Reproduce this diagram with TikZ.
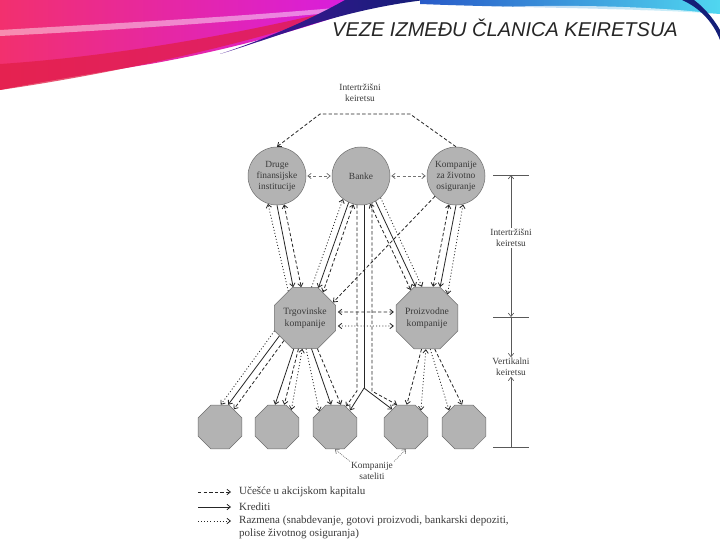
\documentclass[tikz,border=0pt]{standalone}
\usepackage{fontspec}
\setmainfont{Liberation Serif}
\newfontfamily\titlefont{Liberation Sans}
\usetikzlibrary{shapes.geometric,arrows.meta,calc}
\definecolor{nodefill}{HTML}{B3B3B3}
\definecolor{nodeline}{HTML}{6E6E6E}
\definecolor{linec}{HTML}{262626}
\definecolor{txt}{HTML}{3A3A3A}
\definecolor{pinkA}{RGB}{242,48,110}
\definecolor{pinkB}{RGB}{214,28,232}
\definecolor{crim}{RGB}{225,30,70}
\definecolor{navyA}{RGB}{70,20,150}
\definecolor{navyB}{RGB}{20,30,120}
\definecolor{blueA}{RGB}{40,90,200}
\definecolor{cyanA}{RGB}{80,215,240}
\begin{document}
\begin{tikzpicture}[x=1pt,y=-1pt,
  >={Straight Barb[length=3.4pt,width=5.4pt]},
  ln/.style={draw=linec, line width=0.8pt},
  sol/.style={ln},
  dsh/.style={ln, dash pattern=on 3.4pt off 2.2pt},
  dtt/.style={ln, dash pattern=on 1pt off 2.1pt},
  dshg/.style={draw=black!55, line width=0.75pt, dash pattern=on 3pt off 2.2pt},
  brk/.style={draw=black!65, line width=0.65pt},
  sat/.style={draw=black!60, line width=0.55pt, dash pattern=on 1pt off 1pt},
  circ/.style={circle, fill=nodefill, draw=nodeline, line width=0.5pt, minimum size=58pt, inner sep=0pt, align=center, text=txt, font=\fontsize{9.4}{11}\selectfont},
  octbig/.style={regular polygon, regular polygon sides=8, fill=nodefill, draw=nodeline, line width=0.5pt, minimum size=57.4pt, inner sep=0pt, align=center, text=txt, font=\fontsize{9.6}{12.5}\selectfont},
  octsm/.style={regular polygon, regular polygon sides=8, fill=nodefill, draw=nodeline, line width=0.5pt, minimum size=47.6pt, inner sep=0pt},
  lbl/.style={align=center, text=txt, font=\fontsize{9.4}{10.5}\selectfont, inner sep=1pt},
  leg/.style={anchor=west, text=txt, font=\fontsize{11}{12}\selectfont, inner sep=0pt},
]
\fill[white] (0,0) rectangle (720,540);
\useasboundingbox (0,0) rectangle (720,540);

% ---- decorative header swoosh ----
\shade[left color=pinkA, right color=pinkB]
  (0,0) -- (380,0) .. controls (330,22) and (240,48) .. (150,64)
  .. controls (90,74) and (40,82) .. (0,90) -- cycle;
\fill[crim, opacity=0.75] (0,64) .. controls (90,58) and (200,42) .. (320,14)
  -- (335,14) .. controls (240,46) and (110,74) .. (0,90) -- cycle;
\fill[white, opacity=0.45] (0,30) .. controls (100,24) and (220,18) .. (335,8)
  -- (330,13) .. controls (220,23) and (100,31) .. (0,36) -- cycle;
\shade[left color=navyA, right color=navyB]
  (220,54) .. controls (280,34) and (320,14) .. (345,0) -- (425,0)
  .. controls (340,10) and (280,36) .. (220,54) -- cycle;
\shade[left color=blueA, right color=cyanA]
  (420,0) -- (720,0) -- (720,14) .. controls (640,8) and (520,8) .. (420,4) -- cycle;
\fill[white, opacity=0.7] (470,8) .. controls (560,4) and (640,6) .. (700,12)
  -- (700,14) .. controls (640,9) and (560,8) .. (470,10) -- cycle;
\fill[navyB] (682,0) .. controls (700,8) and (713,22) .. (720,40)
  -- (720,30) .. controls (712,16) and (702,6) .. (694,0) -- cycle;

\node[font=\titlefont\itshape\fontsize{20}{23}\selectfont, text=black!85, anchor=base, inner sep=0pt]
  (title) at (505,37) {VEZE IZMEĐU ČLANICA KEIRETSUA};

% ---- nodes ----
\node[circ] (dr) at (277,176) {Druge\\finansijske\\institucije};
\node[circ] (bk) at (361,176) {Banke};
\node[circ] (ko) at (456,176) {Kompanije\\za životno\\osiguranje};
\node[octbig] (trg) at (305,318) {Trgovinske\\kompanije};
\node[octbig] (pro) at (427,318) {Proizvodne\\kompanije};
\node[octsm] (s1) at (220,427) {};
\node[octsm] (s2) at (277,427) {};
\node[octsm] (s3) at (335,427) {};
\node[octsm] (s4) at (406,427) {};
\node[octsm] (s5) at (464,427) {};

\node[lbl] (itop) at (360,93) {Intertržišni\\keiretsu};
\node[lbl] (ks) at (372,471) {Kompanije\\sateliti};
\node[lbl, fill=white] (brI) at (511,238) {Intertržišni\\keiretsu};
\node[lbl, fill=white] (brV) at (511,367) {Vertikalni\\keiretsu};

% ---- top intermarket link ----
\coordinate (tl) at (320,114);
\coordinate (tr) at (410,114);
\draw[dsh,<-] (dr.north) -- (tl) -- (tr) -- (ko.north);

% ---- between top circles ----
\draw[dshg,<->,shorten <=1pt,shorten >=1pt] (dr.east) -- (bk.west);
\draw[dshg,<->,shorten <=1pt,shorten >=1pt] (bk.east) -- (ko.west);

% ---- Druge -- Trgovinske ----
\draw[dtt,->] (trg.122) -- (dr.252);
\draw[sol,->] (dr.270) -- (trg.111);
\draw[dsh,<->] (dr.284) -- (trg.97);

% ---- Banke -- Trgovinske ----
\draw[dtt,->] (trg.78) -- (bk.232);
\draw[sol,->] (bk.245) -- (trg.66);
\draw[dsh,<->] (bk.255) -- (trg.55);

% ---- Banke -- Proizvodne ----
\draw[dsh,<->] (bk.288) -- (pro.120);
\draw[sol,->] (bk.300) -- (pro.110);
\draw[dtt,->] (bk.312) -- (pro.99);

% ---- Kompanije -- Proizvodne ----
\draw[dsh,<->] (ko.256) -- (pro.79);
\draw[sol,->] (ko.270) -- (pro.67);
\draw[dtt,<->] (ko.284) -- (pro.49);

% ---- Kompanije -- Trgovinske ----
\draw[dsh,->] (ko.224) -- (trg.29);

% ---- Trgovinske -- Proizvodne ----
\draw[dsh,<->] ($(trg.east)+(2,-6)$) -- ($(pro.west)+(-2,-6)$);
\draw[dtt,<->] ($(trg.east)+(2,8)$) -- ($(pro.west)+(-2,8)$);

% ---- Banke down to satellites ----
\draw[dsh,->] (bk.262) -- ++(0,186) -- (s3.62);
\draw[sol] (bk.276) -- ++(0,183) coordinate (spl);
\draw[sol,->] (spl) -- (s3.48);
\draw[sol,->] (spl) -- (s4.128);
\draw[dsh,->] (bk.292) -- ++(0,188) -- (s4.112);

% ---- Trgovinske to satellites ----
\draw[dtt,->] (trg.203) -- (s1.88);
\draw[sol,->] (trg.215) -- (s1.70);
\draw[dsh,->] (trg.227) -- (s1.52);
\draw[sol,->] (trg.250) -- (s2.95);
\draw[dsh,->] (trg.258) -- (s2.72);
\draw[dtt,<->] (trg.265) -- (s2.50);
\draw[dtt,->] (trg.272) -- (s3.135);
\draw[sol,->] (trg.282) -- (s3.100);
\draw[dsh,->] (trg.292) -- (s3.75);

% ---- Proizvodne to satellites ----
\draw[dsh,->] (pro.260) -- (s4.88);
\draw[dtt,<->] (pro.268) -- (s4.48);
\draw[dtt,->] (pro.276) -- (s5.132);
\draw[dsh,->] (pro.284) -- (s5.95);

% ---- satellite label ----
\draw[sat,->] (ks.north west) -- (s3.270);
\draw[sat,->] (ks.north east) -- (s4.270);

% ---- right bracket ----
\coordinate (bt) at (511,175);
\coordinate (bm) at (511,317);
\coordinate (bb) at (511,447);
\draw[brk] (493,175) -- (529,175);
\draw[brk] (493,317) -- (529,317);
\draw[brk] (493,447) -- (529,447);
\draw[brk,->] (brI.north) -- (bt);
\draw[brk,->] (brI.south) -- (bm);
\draw[brk,->] (bm) -- (brV.north);
\draw[brk,->] (bb) -- (brV.south);

% ---- legend ----
\coordinate (l1a) at (198,492); \coordinate (l1b) at (231,492);
\coordinate (l2a) at (198,507); \coordinate (l2b) at (231,507);
\coordinate (l3a) at (198,521); \coordinate (l3b) at (231,521);
\draw[dsh,->] (l1a) -- (l1b);
\draw[sol,->] (l2a) -- (l2b);
\draw[dtt,->] (l3a) -- (l3b);
\node[leg] (t1) at (239,492) {Učešće u akcijskom kapitalu};
\node[leg] (t2) at (239,507) {Krediti};
\node[leg] (t3) at (239,521) {Razmena (snabdevanje, gotovi proizvodi, bankarski depoziti,};
\node[leg] (t4) at (239,534) {polise životnog osiguranja)};
\end{tikzpicture}
\end{document}
